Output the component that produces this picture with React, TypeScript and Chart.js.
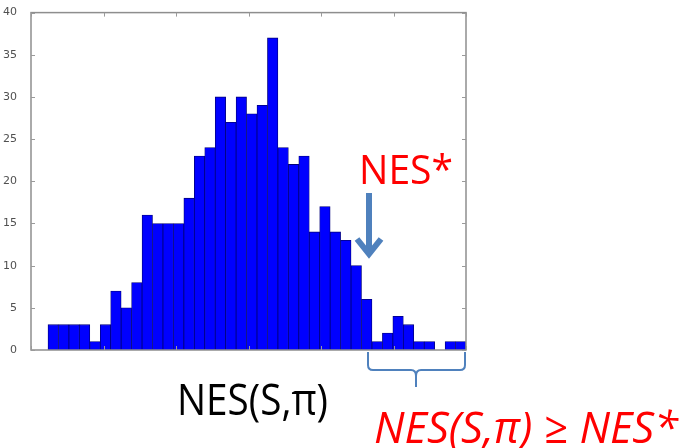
import React, { useEffect, useRef } from "react";
import { Chart, registerables } from "chart.js";

Chart.register(...registerables);

// Histogram counts per bin
const binCounts = [
  3, 3, 3, 3, 1, 3, 7, 5, 8, 16,
  15, 15, 15, 18, 23, 24, 30, 27, 30, 28,
  29, 37, 24, 22, 23, 14, 17, 14, 13, 10,
  6, 1, 2, 4, 3, 1, 1, 0, 1, 1,
];
// Bin layout on the x axis
const firstBinEdge = -2.7655;
const binWidth = 0.14414;
const xTickValues = [-3, -2, -1, 0, 1, 2, 3];
const yTickValues = [0, 5, 10, 15, 20, 25, 30, 35, 40];

const binCenters = binCounts.map((_, i) => firstBinEdge + (i + 0.5) * binWidth);

const annotationPlugin = {
  id: "annotations",
  afterDraw(chart: any) {
    const ctx: CanvasRenderingContext2D = chart.ctx;
    const { left, right, top, bottom } = chart.chartArea;
    const xs = chart.scales.x;
    const ys = chart.scales.y;
    ctx.save();
    // frame
    ctx.strokeStyle = "#8e8e8e";
    ctx.lineWidth = 1.5;
    ctx.strokeRect(left, top, right - left, bottom - top);
    // inward ticks
    ctx.lineWidth = 1;
    ctx.strokeStyle = "#9a9a9a";
    ctx.beginPath();
    yTickValues.forEach((v) => {
      const py = Math.round(ys.getPixelForValue(v)) + 0.5;
      ctx.moveTo(left, py);
      ctx.lineTo(left + 4, py);
      ctx.moveTo(right, py);
      ctx.lineTo(right - 4, py);
    });
    xTickValues.forEach((v) => {
      const px = Math.round(xs.getPixelForValue(v)) + 0.5;
      ctx.moveTo(px, bottom);
      ctx.lineTo(px, bottom - 4);
      ctx.moveTo(px, top);
      ctx.lineTo(px, top + 4);
    });
    ctx.stroke();

    const drawFitted = (
      text: string,
      font: string,
      color: string,
      x0: number,
      x1: number,
      baseline: number
    ) => {
      ctx.save();
      ctx.font = font;
      ctx.fillStyle = color;
      ctx.textBaseline = "alphabetic";
      ctx.textAlign = "left";
      const w = ctx.measureText(text).width;
      ctx.translate(x0, baseline);
      ctx.scale((x1 - x0) / w, 1);
      ctx.fillText(text, 0, 0);
      ctx.restore();
    };

    // NES* label
    drawFitted("NES*", '41px "Open Sans"', "#ff0000", 359, 453, 184);
    // arrow
    ctx.strokeStyle = "#4f81bd";
    ctx.lineWidth = 6;
    ctx.lineCap = "butt";
    ctx.lineJoin = "miter";
    ctx.beginPath();
    ctx.moveTo(369, 193);
    ctx.lineTo(369, 253);
    ctx.stroke();
    ctx.beginPath();
    ctx.moveTo(357, 239);
    ctx.lineTo(369, 254);
    ctx.lineTo(381, 239);
    ctx.stroke();
    // brace
    ctx.lineWidth = 2;
    ctx.lineJoin = "round";
    ctx.beginPath();
    ctx.moveTo(368, 352);
    ctx.lineTo(368, 365);
    ctx.quadraticCurveTo(368, 370, 373, 370);
    ctx.lineTo(411, 370);
    ctx.quadraticCurveTo(416, 370, 416, 376);
    ctx.lineTo(416, 387);
    ctx.moveTo(416, 376);
    ctx.quadraticCurveTo(416, 370, 421, 370);
    ctx.lineTo(460, 370);
    ctx.quadraticCurveTo(465, 370, 465, 365);
    ctx.lineTo(465, 352);
    ctx.stroke();

    // axis title
    drawFitted("NES(S,\u03c0)", '44px "Open Sans"', "#000000", 177, 328, 415);
    // red condition
    drawFitted(
      "NES(S,\u03c0) \u2265 NES*",
      'italic 44px "Open Sans"',
      "#ff0000",
      374,
      678,
      443
    );
    ctx.restore();
  },
};

export default function App() {
  const ref = useRef<HTMLCanvasElement | null>(null);
  useEffect(() => {
    if (!ref.current) return;
    const chart = new Chart(ref.current, {
      type: "bar",
      data: {
        datasets: [
          {
            data: binCenters.map((x, i) => ({ x, y: binCounts[i] })),
            backgroundColor: "#0000ff",
            borderColor: "#00007a",
            borderWidth: 0.8,
            barPercentage: 1,
            categoryPercentage: 1,
          },
        ],
      },
      options: {
        animation: false,
        responsive: false,
        layout: { padding: { left: 0, right: 219, top: 12, bottom: 98 } },
        plugins: { legend: { display: false }, tooltip: { enabled: false } },
        scales: {
          x: {
            type: "linear",
            min: -3,
            max: 3,
            offset: false,
            display: false,
          },
          y: {
            min: 0,
            max: 40,
            ticks: {
              stepSize: 5,
              padding: 6,
              color: "#505050",
              font: { family: "DejaVu Sans", size: 11 },
            },
            grid: { display: false },
            border: { display: false },
            afterFit: (s: any) => {
              s.width = 31;
            },
          },
        },
      },
      plugins: [annotationPlugin],
    });
    return () => chart.destroy();
  }, []);
  return (
    <div style={{ position: "absolute", left: 0, top: 0, width: 685, height: 448 }}>
      <canvas ref={ref} width={685} height={448} />
    </div>
  );
}
